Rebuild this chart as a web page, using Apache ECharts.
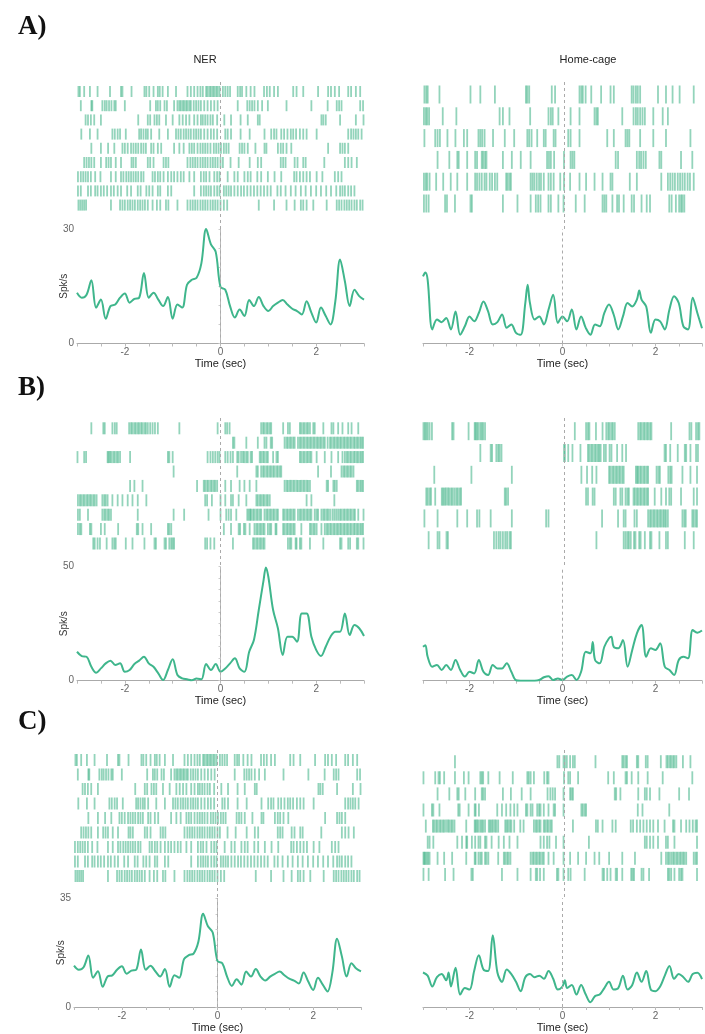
<!DOCTYPE html>
<html>
<head>
<meta charset="utf-8">
<script src="https://cdn.jsdelivr.net/npm/echarts@6.0.0/dist/echarts.min.js"></script>
<style>
  html, body { margin: 0; padding: 0; background: #fff; }
  #chart { width: 705px; height: 1034px; }
</style>
</head>
<body>
<div id="chart"></div>
<script>
// spike times (sec) per trial, top row first
const aLeftRows = [
  [-2.97,-2.94,-2.85,-2.73,-2.57,-2.31,-2.08,-2.05,-1.86,-1.59,-1.55,-1.49,-1.40,-1.31,-1.27,-1.21,-1.10,-0.93,-0.69,-0.62,-0.55,-0.48,-0.42,-0.37,-0.30,-0.27,-0.23,-0.20,-0.16,-0.13,-0.09,-0.06,-0.02,0.05,0.10,0.15,0.20,0.36,0.41,0.45,0.54,0.63,0.71,0.91,0.97,1.03,1.12,1.20,1.52,1.59,1.73,2.04,2.25,2.31,2.39,2.48,2.67,2.73,2.83,2.92],
  [-2.92,-2.70,-2.68,-2.47,-2.42,-2.38,-2.33,-2.28,-2.22,-2.19,-2.00,-1.47,-1.35,-1.31,-1.26,-1.17,-1.12,-0.97,-0.90,-0.86,-0.83,-0.79,-0.76,-0.72,-0.69,-0.65,-0.62,-0.56,-0.51,-0.46,-0.41,-0.34,-0.27,-0.20,-0.13,-0.06,0.36,0.56,0.61,0.66,0.71,0.78,0.87,0.99,1.38,1.90,2.24,2.43,2.48,2.53,2.92,2.98],
  [-2.82,-2.77,-2.71,-2.64,-2.50,-1.72,-1.52,-1.47,-1.38,-1.33,-1.28,-1.14,-1.00,-0.86,-0.79,-0.72,-0.65,-0.55,-0.48,-0.41,-0.37,-0.32,-0.27,-0.21,-0.16,-0.07,0.08,0.22,0.42,0.57,0.78,0.82,2.11,2.15,2.20,2.50,2.83,2.99],
  [-2.91,-2.73,-2.57,-2.26,-2.21,-2.15,-2.10,-1.98,-1.70,-1.66,-1.61,-1.56,-1.52,-1.45,-1.28,-1.10,-0.93,-0.88,-0.83,-0.77,-0.72,-0.67,-0.62,-0.56,-0.51,-0.46,-0.41,-0.34,-0.27,-0.20,-0.14,-0.07,0.10,0.15,0.22,0.42,0.61,0.92,1.06,1.12,1.17,1.27,1.33,1.40,1.47,1.52,1.58,1.66,1.73,1.80,2.01,2.67,2.73,2.78,2.83,2.88,2.95],
  [-2.70,-2.50,-2.35,-2.22,-2.05,-2.00,-1.94,-1.87,-1.82,-1.77,-1.72,-1.66,-1.61,-1.56,-1.45,-1.40,-1.31,-1.24,-0.97,-0.86,-0.77,-0.65,-0.60,-0.55,-0.48,-0.42,-0.37,-0.32,-0.27,-0.21,-0.14,-0.09,-0.04,0.01,0.07,0.12,0.17,0.40,0.45,0.50,0.57,0.73,0.92,0.96,1.20,1.26,1.31,1.38,1.48,2.25,2.50,2.55,2.60,2.67],
  [-2.85,-2.80,-2.75,-2.70,-2.64,-2.50,-2.39,-2.34,-2.29,-2.19,-2.08,-1.86,-1.82,-1.77,-1.52,-1.47,-1.40,-1.19,-1.14,-1.09,-0.69,-0.63,-0.58,-0.53,-0.48,-0.42,-0.37,-0.32,-0.27,-0.21,-0.16,-0.11,-0.06,0.00,0.05,0.21,0.38,0.61,0.78,0.85,1.26,1.31,1.36,1.55,1.61,1.73,1.78,2.17,2.60,2.67,2.74,2.85],
  [-2.98,-2.92,-2.87,-2.82,-2.77,-2.71,-2.62,-2.51,-2.29,-2.19,-2.08,-2.03,-1.97,-1.92,-1.87,-1.82,-1.77,-1.72,-1.66,-1.61,-1.42,-1.37,-1.31,-1.26,-1.19,-1.10,-1.03,-0.97,-0.90,-0.83,-0.77,-0.65,-0.55,-0.41,-0.35,-0.30,-0.23,-0.13,-0.07,-0.02,0.15,0.29,0.36,0.50,0.57,0.63,0.77,0.85,0.99,1.13,1.27,1.54,1.59,1.66,1.73,1.80,1.87,2.01,2.13,2.39,2.46,2.53],
  [-2.98,-2.92,-2.77,-2.71,-2.62,-2.57,-2.50,-2.44,-2.37,-2.29,-2.23,-2.15,-2.08,-1.95,-1.87,-1.73,-1.67,-1.55,-1.49,-1.42,-1.31,-1.26,-1.10,-1.03,-0.55,-0.41,-0.35,-0.30,-0.25,-0.20,-0.13,-0.07,-0.02,0.07,0.12,0.17,0.22,0.29,0.36,0.43,0.49,0.56,0.63,0.70,0.77,0.84,0.91,0.98,1.05,1.19,1.26,1.36,1.47,1.57,1.68,1.78,1.89,2.00,2.10,2.21,2.31,2.42,2.50,2.55,2.60,2.67,2.73,2.80],
  [-2.97,-2.93,-2.89,-2.85,-2.81,-2.29,-2.10,-2.05,-2.00,-1.94,-1.89,-1.84,-1.79,-1.73,-1.68,-1.63,-1.58,-1.52,-1.42,-1.33,-1.26,-1.14,-1.09,-0.90,-0.69,-0.63,-0.58,-0.53,-0.48,-0.42,-0.37,-0.32,-0.27,-0.21,-0.16,-0.11,-0.06,0.00,0.07,0.14,0.80,1.12,1.38,1.55,1.68,1.73,1.80,1.94,2.22,2.43,2.48,2.53,2.59,2.64,2.69,2.74,2.80,2.85,2.92,2.97]
];
const aRightRows = [
  [-2.97,-2.93,-2.90,-2.65,-1.99,-1.78,-1.47,-0.81,-0.78,-0.74,-0.26,-0.19,0.33,0.37,0.40,0.46,0.58,0.79,0.99,1.06,1.44,1.48,1.53,1.57,1.62,2.00,2.17,2.31,2.46,2.76],
  [-2.98,-2.94,-2.91,-2.87,-2.58,-2.29,-1.37,-1.30,-1.16,-0.72,-0.33,-0.28,-0.24,-0.12,0.14,0.33,0.65,0.69,0.72,1.24,1.48,1.53,1.57,1.62,1.67,1.72,1.90,2.10,2.21],
  [-2.97,-2.74,-2.69,-2.64,-2.48,-2.31,-2.13,-2.06,-1.82,-1.78,-1.74,-1.69,-1.51,-1.26,-1.06,-0.78,-0.74,-0.69,-0.57,-0.43,-0.39,-0.22,-0.18,0.09,0.14,0.33,0.92,1.06,1.31,1.35,1.39,1.62,1.90,2.17,2.69],
  [-2.69,-2.44,-2.27,-2.24,-2.06,-1.89,-1.85,-1.75,-1.72,-1.68,-1.65,-1.30,-1.11,-0.92,-0.71,-0.36,-0.32,-0.28,-0.21,0.00,0.14,0.18,0.22,1.10,1.15,1.55,1.60,1.64,1.69,1.74,2.03,2.07,2.49,2.73],
  [-2.98,-2.94,-2.91,-2.86,-2.72,-2.57,-2.41,-2.27,-2.06,-1.89,-1.85,-1.80,-1.75,-1.69,-1.65,-1.58,-1.53,-1.47,-1.42,-1.23,-1.20,-1.16,-1.13,-0.71,-0.67,-0.63,-0.58,-0.53,-0.49,-0.43,-0.33,-0.28,-0.22,-0.08,0.00,0.13,0.33,0.47,0.65,0.82,0.99,1.03,1.40,1.55,2.07,2.21,2.26,2.31,2.36,2.42,2.47,2.52,2.57,2.63,2.68,2.76],
  [-2.98,-2.93,-2.88,-2.53,-2.49,-2.32,-1.99,-1.96,-1.30,-0.99,-0.71,-0.60,-0.55,-0.50,-0.33,-0.28,-0.12,-0.01,0.25,0.44,0.82,0.86,0.90,1.03,1.13,1.17,1.27,1.44,1.49,1.65,1.76,1.83,2.24,2.29,2.38,2.45,2.49,2.52,2.56]
];
const bLeftRows = [
  [-2.70,-2.45,-2.42,-2.26,-2.21,-2.17,-1.91,-1.87,-1.84,-1.80,-1.77,-1.73,-1.70,-1.66,-1.63,-1.59,-1.56,-1.52,-1.47,-1.42,-1.37,-1.31,-0.86,-0.06,0.10,0.14,0.19,0.85,0.89,0.92,0.96,0.99,1.03,1.06,1.31,1.41,1.45,1.66,1.69,1.73,1.76,1.80,1.83,1.87,1.94,1.97,2.15,2.32,2.36,2.46,2.55,2.67,2.74,2.88],
  [0.26,0.29,0.54,0.78,0.92,0.96,1.05,1.08,1.34,1.38,1.41,1.45,1.48,1.52,1.55,1.62,1.66,1.69,1.73,1.76,1.80,1.83,1.87,1.90,1.94,1.97,2.01,2.04,2.08,2.11,2.15,2.18,2.24,2.29,2.32,2.36,2.39,2.43,2.46,2.50,2.53,2.57,2.60,2.64,2.67,2.71,2.74,2.78,2.81,2.85,2.88,2.92,2.95,2.98],
  [-2.99,-2.85,-2.81,-2.36,-2.34,-2.31,-2.28,-2.24,-2.21,-2.17,-2.14,-2.10,-1.89,-1.10,-1.07,-1.00,-0.27,-0.21,-0.16,-0.11,-0.06,-0.02,0.10,0.15,0.21,0.26,0.35,0.38,0.43,0.47,0.50,0.54,0.57,0.63,0.66,0.82,0.85,0.89,0.92,0.96,0.99,1.10,1.17,1.20,1.66,1.69,1.73,1.76,1.80,1.83,1.87,1.90,2.01,2.18,2.32,2.46,2.55,2.60,2.64,2.67,2.71,2.74,2.78,2.81,2.85,2.88,2.92,2.95,2.98],
  [-0.98,0.35,0.75,0.78,0.85,0.89,0.92,0.96,0.99,1.03,1.06,1.10,1.13,1.17,1.20,1.24,1.27,2.04,2.31,2.53,2.57,2.60,2.64,2.67,2.71,2.74,2.78],
  [-1.89,-1.80,-1.63,-0.49,-0.35,-0.32,-0.28,-0.25,-0.21,-0.18,-0.14,-0.11,-0.07,0.10,0.22,0.40,0.50,0.61,0.75,1.34,1.38,1.41,1.45,1.48,1.52,1.55,1.59,1.62,1.66,1.69,1.73,1.76,1.80,1.83,1.87,2.22,2.25,2.36,2.39,2.43,2.85,2.88,2.92,2.95,2.98],
  [-2.98,-2.94,-2.91,-2.87,-2.84,-2.80,-2.77,-2.73,-2.70,-2.66,-2.63,-2.59,-2.47,-2.43,-2.40,-2.36,-2.26,-2.15,-2.05,-1.94,-1.84,-1.73,-1.55,-0.32,-0.28,-0.18,0.00,0.10,0.22,0.26,0.38,0.54,0.75,0.78,0.82,0.85,0.89,0.92,0.96,0.99,1.03,1.80,1.90,2.38],
  [-2.98,-2.94,-2.77,-2.47,-2.43,-2.40,-2.36,-2.33,-2.29,-1.73,-0.98,-0.76,-0.25,0.00,0.12,0.17,0.22,0.33,0.56,0.59,0.62,0.64,0.68,0.71,0.75,0.78,0.82,0.85,0.92,0.96,0.99,1.03,1.06,1.10,1.13,1.17,1.20,1.31,1.34,1.38,1.41,1.45,1.48,1.52,1.55,1.62,1.66,1.69,1.73,1.76,1.80,1.83,1.87,1.90,1.97,2.01,2.04,2.11,2.15,2.18,2.22,2.25,2.29,2.34,2.38,2.42,2.46,2.50,2.53,2.57,2.60,2.64,2.67,2.71,2.74,2.78,2.81,2.88,2.99],
  [-2.98,-2.94,-2.91,-2.73,-2.70,-2.50,-2.42,-2.14,-1.75,-1.72,-1.63,-1.45,-1.10,-1.07,-1.03,0.07,0.22,0.38,0.41,0.49,0.52,0.61,0.71,0.75,0.78,0.82,0.85,0.89,0.92,0.99,1.03,1.06,1.15,1.17,1.31,1.34,1.38,1.41,1.45,1.48,1.52,1.55,1.69,1.87,1.90,1.94,1.97,2.01,2.11,2.18,2.22,2.25,2.29,2.32,2.36,2.39,2.43,2.46,2.50,2.53,2.57,2.60,2.64,2.67,2.71,2.74,2.78,2.81,2.85,2.88,2.92,2.95,2.98],
  [-2.66,-2.63,-2.57,-2.52,-2.38,-2.26,-2.22,-2.19,-1.98,-1.84,-1.59,-1.38,-1.35,-1.17,-1.14,-1.07,-1.03,-1.00,-0.97,-0.32,-0.28,-0.21,-0.13,0.26,0.68,0.71,0.75,0.78,0.82,0.85,0.89,0.92,1.41,1.45,1.48,1.57,1.59,1.66,1.69,1.87,2.15,2.50,2.53,2.67,2.71,2.85,2.88,2.99]
];
const bRightRows = [
  [-2.99,-2.96,-2.93,-2.90,-2.86,-2.81,-2.38,-2.35,-2.03,-1.90,-1.88,-1.85,-1.82,-1.78,-1.75,-1.72,-1.68,0.23,0.47,0.51,0.54,0.68,0.82,0.90,0.94,0.97,1.01,1.04,1.08,1.58,1.62,1.65,1.69,1.72,1.76,1.79,1.83,1.86,2.28,2.67,2.71,2.81,2.85,2.88],
  [-1.78,-1.56,-1.53,-1.44,-1.40,-1.37,-1.33,0.00,0.02,0.09,0.18,0.35,0.51,0.54,0.58,0.61,0.65,0.68,0.72,0.75,0.78,0.85,0.89,0.97,1.01,1.13,1.24,1.32,2.14,2.17,2.26,2.42,2.57,2.60,2.69,2.81,2.85],
  [-2.76,-1.97,-1.11,0.37,0.49,0.60,0.69,0.96,0.99,1.03,1.06,1.10,1.13,1.17,1.20,1.24,1.27,1.53,1.56,1.58,1.62,1.65,1.69,1.72,1.76,1.79,1.97,2.01,2.04,2.22,2.26,2.29,2.52,2.69,2.83],
  [-2.93,-2.90,-2.86,-2.83,-2.74,-2.60,-2.57,-2.54,-2.51,-2.47,-2.44,-2.40,-2.37,-2.33,-2.29,-2.26,-2.22,-2.19,-1.26,-1.23,-1.19,0.47,0.51,0.61,0.65,1.06,1.10,1.20,1.24,1.31,1.35,1.38,1.48,1.51,1.55,1.58,1.62,1.65,1.69,1.72,1.76,1.79,1.93,2.07,2.17,2.24,2.28,2.49,2.76,2.83],
  [-2.97,-2.69,-2.27,-2.06,-1.85,-1.80,-1.56,-1.11,-0.38,-0.33,0.81,1.15,1.27,1.31,1.50,1.55,1.79,1.83,1.86,1.90,1.93,1.97,2.00,2.04,2.07,2.11,2.14,2.17,2.21,2.52,2.56,2.59,2.73,2.76,2.80,2.83],
  [-2.88,-2.69,-2.65,-2.50,-2.47,-1.49,-1.44,-1.39,-1.35,-1.30,-1.25,-1.21,-1.16,-1.13,0.69,1.27,1.31,1.35,1.38,1.42,1.49,1.52,1.60,1.63,1.72,1.83,1.86,2.03,2.17,2.21,2.57,2.76]
];
const cRightRows = [
  [-2.32,-0.14,-0.10,-0.01,0.02,0.06,0.13,0.19,0.23,0.67,1.24,1.27,1.31,1.34,1.55,1.58,1.74,1.78,2.06,2.18,2.21,2.25,2.28,2.32,2.35,2.39,2.53,2.69],
  [-2.99,-2.74,-2.67,-2.64,-2.55,-2.32,-2.13,-2.03,-1.78,-1.75,-1.72,-1.61,-1.37,-1.09,-0.78,-0.75,-0.71,-0.64,-0.42,-0.36,-0.33,0.00,0.09,0.13,0.30,0.94,1.06,1.31,1.34,1.44,1.58,1.78,2.10,2.73],
  [-2.69,-2.44,-2.27,-2.24,-2.10,-1.89,-1.75,-1.72,-1.68,-1.30,-1.13,-0.90,-0.71,-0.35,-0.29,-0.24,-0.19,-0.01,0.13,0.16,0.19,1.08,1.11,1.20,1.58,1.72,1.76,1.83,2.03,2.45,2.66],
  [-2.99,-2.81,-2.78,-2.65,-2.25,-2.22,-2.03,-1.90,-1.88,-1.81,-1.42,-1.32,-1.23,-1.14,-1.06,-0.99,-0.81,-0.78,-0.71,-0.67,-0.57,-0.53,-0.50,-0.43,-0.33,-0.22,-0.19,-0.01,0.37,0.40,0.44,0.47,1.57,1.67,2.24],
  [-2.94,-2.79,-2.76,-2.72,-2.69,-2.65,-2.62,-2.58,-2.55,-2.51,-2.47,-2.44,-2.40,-2.37,-2.33,-2.08,-1.90,-1.88,-1.85,-1.82,-1.78,-1.75,-1.72,-1.68,-1.60,-1.57,-1.54,-1.51,-1.47,-1.44,-1.40,-1.25,-1.22,-1.19,-1.15,-1.12,-1.06,-0.93,-0.86,-0.64,-0.60,-0.57,-0.53,-0.50,-0.43,-0.40,-0.36,-0.33,-0.29,-0.26,0.19,0.68,0.72,0.82,1.03,1.10,1.42,1.47,1.55,1.62,1.69,1.76,1.83,1.90,2.00,2.14,2.32,2.35,2.49,2.60,2.67,2.74,2.80,2.83],
  [-2.90,-2.86,-2.78,-2.27,-2.17,-2.08,-2.06,-1.96,-1.89,-1.82,-1.78,-1.68,-1.65,-1.54,-1.39,-1.28,-1.16,-0.99,-0.50,-0.43,-0.36,-0.31,-0.17,-0.01,0.53,1.72,1.76,1.83,1.90,2.00,2.17,2.21,2.35,2.83],
  [-2.99,-2.97,-2.95,-2.92,-2.89,-2.86,-2.69,-2.55,-2.38,-2.08,-1.90,-1.88,-1.82,-1.78,-1.75,-1.68,-1.65,-1.61,-1.40,-1.28,-1.25,-1.21,-1.18,-1.14,-0.71,-0.67,-0.64,-0.60,-0.57,-0.53,-0.50,-0.46,-0.43,-0.33,-0.22,-0.01,0.13,0.30,0.47,0.65,0.75,0.96,1.24,1.51,2.07,2.17,2.21,2.24,2.28,2.32,2.35,2.39,2.42,2.46,2.49,2.53,2.56,2.60,2.76,2.80,2.83],
  [-2.99,-2.88,-2.53,-2.35,-1.97,-1.94,-1.32,-0.99,-0.71,-0.60,-0.57,-0.51,-0.43,-0.15,-0.12,-0.01,0.09,0.14,0.44,0.82,0.85,0.92,0.99,1.10,1.13,1.24,1.43,1.46,1.49,1.65,1.69,1.81,2.21,2.24,2.28,2.35,2.45,2.49,2.52,2.83]
];

// firing rate curves [time, spk/s]
const nerA = [[-3,13.3],[-2.9,12],[-2.8,12.8],[-2.7,16.6],[-2.6,9.4],[-2.5,11.5],[-2.4,6.5],[-2.3,9.8],[-2.2,10.2],[-2.1,12],[-2,13.1],[-1.9,10.7],[-1.8,11.7],[-1.7,12],[-1.6,18.5],[-1.5,12],[-1.4,13.3],[-1.3,11.5],[-1.2,9.8],[-1.1,12.2],[-1,6.5],[-0.9,10.2],[-0.8,9.4],[-0.7,15.4],[-0.6,16.7],[-0.5,17.2],[-0.4,21],[-0.3,30],[-0.2,26],[-0.1,24],[0,14.8],[0.1,14.1],[0.2,9.8],[0.3,6.8],[0.4,8.9],[0.5,7.2],[0.6,11.4],[0.7,9.8],[0.8,12.2],[0.9,9.8],[1,8.5],[1.1,9.8],[1.2,10.7],[1.3,11.4],[1.4,10.2],[1.5,9.1],[1.6,8.5],[1.7,7.6],[1.8,11.1],[1.9,8.1],[2,5.5],[2.1,9.4],[2.2,7.2],[2.3,5],[2.4,11],[2.5,22],[2.6,16.3],[2.7,9.8],[2.8,14.1],[2.9,12.4],[3,11.5]];
const homeA = [[-3,17.6],[-2.95,18.6],[-2.9,16.7],[-2.8,3.7],[-2.7,6.3],[-2.6,5.6],[-2.5,6.7],[-2.4,3.7],[-2.3,8.4],[-2.2,2.3],[-2.1,4.5],[-2,7.1],[-1.9,5.8],[-1.8,8],[-1.7,11],[-1.6,8.4],[-1.5,5],[-1.4,5.6],[-1.3,7.6],[-1.2,4.1],[-1.1,5],[-1,2.8],[-0.9,2.3],[-0.8,10.6],[-0.75,15.4],[-0.7,10.6],[-0.6,6.3],[-0.5,7.1],[-0.4,5],[-0.3,8.9],[-0.2,12.8],[-0.1,5.4],[0,7.1],[0.1,5.8],[0.2,8.9],[0.3,3.7],[0.4,7.1],[0.5,4.1],[0.6,2.3],[0.7,5],[0.8,4.5],[0.9,8],[1,10.2],[1.1,7.6],[1.2,3.7],[1.3,7.1],[1.4,10.6],[1.5,9.7],[1.6,11.5],[1.65,13.9],[1.7,11.5],[1.8,9.7],[1.9,2.8],[2,6.3],[2.1,5.8],[2.2,3.7],[2.3,8.9],[2.4,12.4],[2.5,10.6],[2.6,4.5],[2.7,3.7],[2.8,12],[2.9,8],[3,4]];
const nerB = [[-3,12.7],[-2.9,10.8],[-2.8,10.5],[-2.7,6.1],[-2.6,3.5],[-2.5,5.4],[-2.4,7.6],[-2.3,8.8],[-2.2,6.9],[-2.1,7.6],[-2,3.9],[-1.9,4.7],[-1.8,7.3],[-1.7,8.8],[-1.6,10.5],[-1.5,7.6],[-1.4,6.1],[-1.3,3.2],[-1.2,0.3],[-1.1,4.7],[-1,9.4],[-0.9,2.5],[-0.8,1],[-0.7,0.6],[-0.6,0.2],[-0.5,1],[-0.4,0.6],[-0.3,7.3],[-0.2,4.7],[-0.1,7.3],[0,3.9],[0.1,5.4],[0.2,7.6],[0.3,9.8],[0.4,5.4],[0.5,3.9],[0.6,12.7],[0.7,18],[0.8,31],[0.9,44],[0.95,49.7],[1,45.6],[1.1,31],[1.2,23],[1.3,11.3],[1.4,19.3],[1.5,19.3],[1.6,17.1],[1.7,29.5],[1.8,29.5],[1.9,19.3],[2,13.5],[2.1,10.8],[2.2,14.9],[2.3,19.3],[2.4,21.5],[2.5,21.5],[2.6,29.5],[2.7,20],[2.8,24.4],[2.9,23],[3,19.6]];
const homeB = [[-3,14.9],[-2.95,15.6],[-2.9,10.5],[-2.8,6.1],[-2.7,6.9],[-2.6,4.7],[-2.5,6.9],[-2.4,4.7],[-2.3,9.1],[-2.2,4.7],[-2.1,1.8],[-2,3.9],[-1.9,3.2],[-1.8,9.1],[-1.7,3.9],[-1.6,2.5],[-1.5,6.9],[-1.4,5.4],[-1.3,5.4],[-1.2,7.6],[-1.1,3.9],[-1,0.2],[-0.9,0],[-0.8,0],[-0.7,0],[-0.6,0],[-0.5,0.3],[-0.4,1.5],[-0.3,2],[-0.2,0.3],[-0.1,1],[0,0.3],[0.1,1.8],[0.2,2.5],[0.3,0.3],[0.4,3.9],[0.5,12.7],[0.6,12],[0.65,17],[0.7,9.1],[0.8,7.6],[0.9,14.9],[1,18.6],[1.05,19.3],[1.1,14.9],[1.2,14.2],[1.3,17.8],[1.4,6.1],[1.5,13.5],[1.6,20.8],[1.7,24.4],[1.8,10.5],[1.9,14.2],[2,13.5],[2.1,16.4],[2.2,6.1],[2.3,4.7],[2.4,2.5],[2.5,9.1],[2.6,10.5],[2.7,9.8],[2.8,22.2],[2.9,21],[3,22]];
const homeC = [[-3,11.1],[-2.9,10.1],[-2.8,6.6],[-2.7,9.6],[-2.6,10.6],[-2.5,8.6],[-2.45,11.1],[-2.4,6.6],[-2.3,12.6],[-2.2,4],[-2.1,6.1],[-2,5.6],[-1.9,11.6],[-1.8,16.7],[-1.7,12.1],[-1.6,11.6],[-1.5,23.1],[-1.4,11.1],[-1.3,8.1],[-1.2,12.1],[-1.1,10.6],[-1,8.1],[-0.9,5.1],[-0.8,9.6],[-0.7,10.6],[-0.6,9.6],[-0.5,10.1],[-0.4,9.1],[-0.3,11.6],[-0.2,9.1],[-0.1,5.6],[0,6.6],[0.05,8.6],[0.1,6.1],[0.2,7.1],[0.3,4],[0.4,7.1],[0.5,4],[0.6,1.5],[0.7,3.5],[0.8,4],[0.9,6.1],[1,8.1],[1.1,5.6],[1.2,6.1],[1.3,10.1],[1.4,5.6],[1.5,7.1],[1.6,11.1],[1.7,8.1],[1.8,11.6],[1.9,5.6],[2,5.1],[2.1,6.6],[2.2,10.1],[2.3,13.2],[2.4,9.1],[2.5,10.6],[2.6,9.6],[2.7,8.1],[2.8,10.6],[2.9,11],[3,9]];

const yMaxA = 30, yMaxB = 50, yMaxC = 35;

// panel layout in px: row centre, row pitch, raster top, raster/psth border, psth baseline
let panels = [
  {rows: aLeftRows,  psth: nerA,  ymax: yMaxA, left: 77,  y1: 91.5,  pitch: 14.2, barH: 11, top: 82,  mid: 229,   bottom: 343.5, yAxis: true},
  {rows: aRightRows, psth: homeA, ymax: yMaxA, left: 423, y1: 94.5,  pitch: 21.8, barH: 18, top: 82,  mid: 229,   bottom: 343.5, yAxis: false},
  {rows: bLeftRows,  psth: nerB,  ymax: yMaxB, left: 77,  y1: 428.3, pitch: 14.4, barH: 12, top: 418, mid: 566.7, bottom: 680.7, yAxis: true},
  {rows: bRightRows, psth: homeB, ymax: yMaxB, left: 423, y1: 431.2, pitch: 21.8, barH: 18, top: 418, mid: 566.7, bottom: 680.7, yAxis: false},
  {rows: aLeftRows,  psth: nerA,  ymax: yMaxC, left: 74,  y1: 760,   pitch: 14.5, barH: 12, top: 750, mid: 898.3, bottom: 1012.7, yAxis: true},
  {rows: cRightRows, psth: homeC, ymax: yMaxC, left: 423, y1: 761.7, pitch: 16.1, barH: 13, top: 750, mid: 898.3, bottom: 1013.3, yAxis: false}
];

let zeroLine = {
  silent: true, symbol: 'none', animation: false, label: {show: false},
  lineStyle: {color: '#aaa', width: 1, type: [3, 3]},
  data: [{xAxis: 0}]
};

let option = {
  animation: false,
  backgroundColor: '#fff',
  textStyle: {fontFamily: 'Liberation Sans, Arial, sans-serif'},
  title: [
    {text: 'A)', left: 13, top: 9,   textStyle: {fontFamily: 'Liberation Serif', fontWeight: 'bold', fontSize: 27, color: '#111'}},
    {text: 'B)', left: 13, top: 370, textStyle: {fontFamily: 'Liberation Serif', fontWeight: 'bold', fontSize: 27, color: '#111'}},
    {text: 'C)', left: 13, top: 704, textStyle: {fontFamily: 'Liberation Serif', fontWeight: 'bold', fontSize: 27, color: '#111'}},
    {text: 'NER', left: 200, top: 49, textAlign: 'center', textStyle: {fontSize: 11, fontWeight: 'normal', color: '#222'}},
    {text: 'Home-cage', left: 583, top: 49, textAlign: 'center', textStyle: {fontSize: 11, fontWeight: 'normal', color: '#222'}}
  ],
  grid: [], xAxis: [], yAxis: [], series: []
};

panels.forEach(function(p) {
  // raster
  let gR = option.grid.length;
  option.grid.push({left: p.left, top: p.top, width: 287, height: p.mid - p.top});
  option.xAxis.push({gridIndex: gR, type: 'value', min: -3, max: 3, show: false});
  option.yAxis.push({
    gridIndex: gR, type: 'value', inverse: true, show: false,
    min: 1 + (p.top - p.y1) / p.pitch, max: 1 + (p.mid - p.y1) / p.pitch
  });
  let spikes = [];
  p.rows.forEach(function(row, r) {
    row.forEach(function(t) { spikes.push([t, r + 1]); });
  });
  option.series.push({
    type: 'scatter', xAxisIndex: gR, yAxisIndex: gR, silent: true,
    symbol: 'rect', symbolSize: [1.8, p.barH],
    itemStyle: {color: 'rgba(30,165,112,0.6)'},
    data: spikes, markLine: zeroLine
  });

  // psth
  let gP = option.grid.length;
  option.grid.push({left: p.left, top: p.mid, width: 287, height: p.bottom - p.mid});
  option.xAxis.push({
    gridIndex: gP, type: 'value', min: -3, max: 3, interval: 0.5,
    splitLine: {show: false},
    axisLine: {lineStyle: {color: '#aaa'}},
    axisTick: {length: 3, lineStyle: {color: '#bbb'}},
    axisLabel: {
      color: '#666', fontSize: 10, margin: 4,
      formatter: function(v) { return (v == -2 || v == 0 || v == 2) ? String(v) : ''; }
    },
    name: 'Time (sec)', nameLocation: 'middle', nameGap: 15,
    nameTextStyle: {color: '#222', fontSize: 11}
  });
  let ya = {gridIndex: gP, type: 'value', min: 0, max: p.ymax, interval: 5, splitLine: {show: false}};
  if (p.yAxis) {
    ya.axisLine = {show: true, lineStyle: {color: '#bbb'}};
    ya.axisTick = {show: true, length: 2, lineStyle: {color: '#ccc'}};
    ya.axisLabel = {
      color: '#666', fontSize: 10, margin: 3,
      formatter: function(v) { return (v === 0 || v === p.ymax) ? String(v) : ''; }
    };
    ya.name = 'Spk/s';
    ya.nameLocation = 'middle';
    ya.nameGap = 8;
    ya.nameMoveOverlap = false;
    ya.nameTextStyle = {color: '#333', fontSize: 10};
  } else {
    ya.show = false;
  }
  option.yAxis.push(ya);
  option.series.push({
    type: 'line', xAxisIndex: gP, yAxisIndex: gP, silent: true,
    data: p.psth, smooth: 0.35, showSymbol: false, symbol: 'none',
    lineStyle: {color: '#3fb68c', width: 2},
    markLine: zeroLine
  });
});

let chart = echarts.init(document.getElementById('chart'), null, {renderer: 'canvas'});
chart.setOption(option);
</script>
</body>
</html>
